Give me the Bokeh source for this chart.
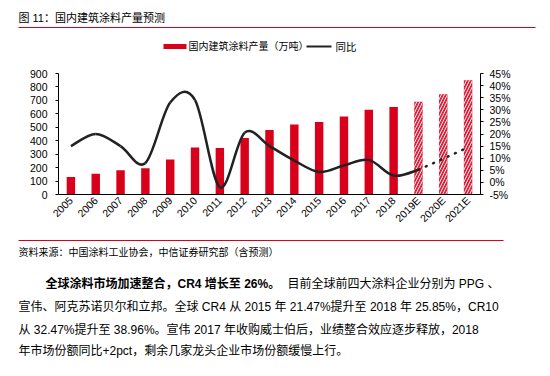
import math
from bokeh.plotting import figure
from bokeh.layouts import column, row
from bokeh.models import Range1d, LinearAxis, FixedTicker
from bokeh.core.properties import value
from bokeh.embed import file_html
from bokeh.resources import INLINE

# ---------------- data ----------------
years = ["2005", "2006", "2007", "2008", "2009", "2010", "2011", "2012", "2013",
         "2014", "2015", "2016", "2017", "2018", "2019E", "2020E", "2021E"]
output = [130, 155, 180, 195, 260, 350, 345, 420, 480, 520, 540, 580, 630, 650,
          690, 745, 850]
yoy_years = years[:15]
yoy = [15, 20, 15, 8, 33, 34, -2, 20.5, 15, 9, 4.3, 7, 9.3, 2.8, 5.2]
fc_years = ["2019E", "2020E", "2021E"]
fc_yoy = [5.2, 9.8, 14.5]
left_ticks = [0, 100, 200, 300, 400, 500, 600, 700, 800, 900]
right_ticks = [-5, 0, 5, 10, 15, 20, 25, 30, 35, 40, 45]

title_text = "图 11：国内建筑涂料产量预测"
legend_bar = "国内建筑涂料产量（万吨）"
legend_line = "同比"
source_text = "资料来源：中国涂料工业协会，中信证券研究部（含预测）"
para_1a = "全球涂料市场加速整合，CR4 增长至 26%。"
para_1b = "目前全球前四大涂料企业分别为 PPG 、"
para_2 = "宣伟、阿克苏诺贝尔和立邦。全球 CR4 从 2015 年 21.47%提升至 2018 年 25.85%，CR10"
para_3 = "从  32.47%提升至  38.96%。宣伟 2017 年收购威士伯后，业绩整合效应逐步释放，2018"
para_4 = "年市场份额同比+2pct，剩余几家龙头企业市场份额缓慢上行。"

# ---------------- layout constants ----------------
W, H = 550, 376
TOP_H = 60          # header strip (title + legend)
BOT_Y = 232         # where the footer strip starts
FL, FR, FT, FB = 58, 480, 73, 194   # chart frame in page pixels
RED = "#d9001b"
LINE_C = "#222222"
FONT = "Liberation Sans, Noto Sans CJK SC"


def strip(y_top, y_bot):
    f = figure(width=W, height=y_bot - y_top, output_backend="svg",
               toolbar_location=None, x_axis_type=None, y_axis_type=None,
               x_range=Range1d(0, W), y_range=Range1d(y_bot, y_top),
               min_border=0)
    f.outline_line_color = None
    f.xgrid.visible = False
    f.ygrid.visible = False
    f.background_fill_color = "white"
    f.border_fill_color = "white"
    return f


def txt(f, s, X, Y, size, bold=False, color="#000000"):
    f.text(x=[X], y=[Y], text=[s], text_font=value(FONT),
           text_font_size=f"{size}px",
           text_font_style="bold" if bold else "normal",
           text_baseline="middle", text_align="left", text_color=color)


# ---------------- header ----------------
top = strip(0, TOP_H)
txt(top, title_text, 18, 17, 11)
top.segment(x0=[18], y0=[27], x1=[535], y1=[27], line_color=RED, line_width=1)
top.quad(left=[163], right=[186], top=[43.5], bottom=[48.5], fill_color=RED,
         line_color=None)
txt(top, legend_bar, 188, 46, 10)
top.segment(x0=[306], y0=[46], x1=[331], y1=[46], line_color=LINE_C,
            line_width=2)
txt(top, legend_line, 335, 46, 10.5)

# ---------------- chart ----------------
idx = {y: i for i, y in enumerate(years)}
p = figure(width=W, height=BOT_Y - TOP_H, output_backend="svg",
           toolbar_location=None,
           x_range=Range1d(-0.5, len(years) - 0.5), y_range=Range1d(0, 900),
           min_border_left=FL, min_border_right=W - FR,
           min_border_top=FT - TOP_H, min_border_bottom=BOT_Y - FB)
p.outline_line_color = None
p.xgrid.visible = False
p.ygrid.visible = False
p.background_fill_color = "white"
p.border_fill_color = "white"

act_x = [idx[y] for y in years if not y.endswith("E")]
act_top = [v for y, v in zip(years, output) if not y.endswith("E")]
fc_x = [idx[y] for y in years if y.endswith("E")]
fc_top = [v for y, v in zip(years, output) if y.endswith("E")]
p.vbar(x=act_x, top=act_top, width=0.34, fill_color=RED, line_color=None)
p.vbar(x=fc_x, top=fc_top, width=0.34, fill_color="#e2203a", line_color=None)
p.vbar(x=fc_x, top=fc_top, width=0.34, fill_alpha=0, line_color=None,
       hatch_pattern="/", hatch_color="#fde8ea", hatch_weight=1.0,
       hatch_scale=6)

p.extra_y_ranges = {"pct": Range1d(-5, 45)}

# smooth yoy line: Catmull-Rom bezier segments through the data points
px = [idx[y] for y in yoy_years]
py = yoy
n = len(px)
X0, Y0, X1, Y1, CX0, CY0, CX1, CY1 = [], [], [], [], [], [], [], []
for i in range(n - 1):
    a, b = max(i - 1, 0), min(i + 2, n - 1)
    X0.append(px[i]); Y0.append(py[i])
    X1.append(px[i + 1]); Y1.append(py[i + 1])
    CX0.append(px[i] + (px[i + 1] - px[a]) / 6.0)
    CY0.append(py[i] + (py[i + 1] - py[a]) / 6.0)
    CX1.append(px[i + 1] - (px[b] - px[i]) / 6.0)
    CY1.append(py[i + 1] - (py[b] - py[i]) / 6.0)
p.bezier(x0=X0, y0=Y0, x1=X1, y1=Y1, cx0=CX0, cy0=CY0, cx1=CX1, cy1=CY1,
         y_range_name="pct", line_color=LINE_C, line_width=2.5)
p.line(x=[idx[y] for y in fc_years], y=fc_yoy, y_range_name="pct",
       line_color=LINE_C, line_width=2.5, line_dash="1 7", line_cap="round")

xa = p.xaxis[0]
xa.ticker = FixedTicker(ticks=list(range(len(years))))
xa.major_label_overrides = {i: y for i, y in enumerate(years)}
xa.major_label_orientation = math.pi / 4
xa.major_tick_out = 0
xa.major_tick_in = 0
xa.minor_tick_out = 0
xa.minor_tick_in = 0
xa.major_label_standoff = 4

ya = p.yaxis[0]
ya.ticker = FixedTicker(ticks=left_ticks)
ya.major_tick_out = 3
ya.major_tick_in = 0
ya.minor_tick_out = 0
ya.minor_tick_in = 0
ya.major_label_standoff = 8

ra = LinearAxis(y_range_name="pct", ticker=FixedTicker(ticks=right_ticks),
                major_label_overrides={t: f"{t}%" for t in right_ticks})
ra.major_tick_out = 3
ra.major_tick_in = 0
ra.minor_tick_out = 0
ra.minor_tick_in = 0
ra.major_label_standoff = 6
p.add_layout(ra, "right")

for ax in (xa, ya, ra):
    ax.axis_line_color = "black"
    ax.axis_line_width = 1
    ax.major_tick_line_color = "black"
    ax.major_label_text_font = "Liberation Sans"
    ax.major_label_text_font_size = "10.5px"
    ax.major_label_text_color = "black"

# ---------------- footer ----------------
bot = strip(BOT_Y, H)
bot.segment(x0=[18], y0=[240], x1=[503], y1=[240], line_color=RED,
            line_width=1)
txt(bot, source_text, 18, 252, 10)
txt(bot, para_1a, 45, 283, 12, bold=True)
txt(bot, para_1b, 287, 283, 12)
txt(bot, para_2, 18, 306, 12)
txt(bot, para_3, 18, 329, 12)
txt(bot, para_4, 18, 350, 12)

layout = column(row(top), p, row(bot), spacing=0)
open("out.html", "w").write(file_html(layout, INLINE))
